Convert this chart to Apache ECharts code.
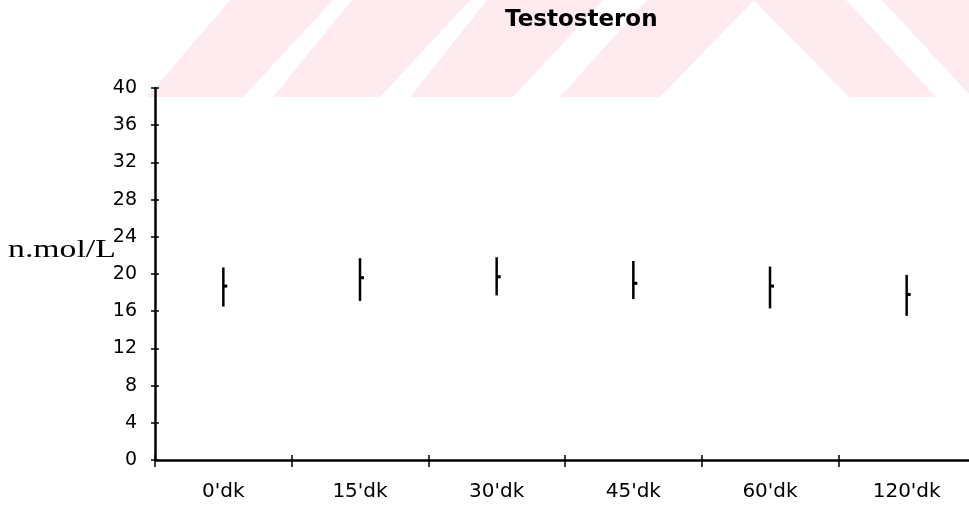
<!DOCTYPE html>
<html>
<head>
<meta charset="utf-8">
<style>
  html, body { margin: 0; padding: 0; background: #ffffff; }
  #chart { width: 969px; height: 508px; }
</style>
<script src="https://cdn.jsdelivr.net/npm/echarts@6/dist/echarts.min.js"></script>
</head>
<body>
<div id="chart"></div>
<script>
// ---- data ----
const categories = ["0'dk", "15'dk", "30'dk", "45'dk", "60'dk", "120'dk"];
const means      = [18.7, 19.6, 19.7, 19.0, 18.7, 17.8];
const upper      = [20.7, 21.7, 21.8, 21.4, 20.8, 19.9];
const lower      = [16.5, 17.1, 17.7, 17.3, 16.3, 15.5];
const yTicks     = [0, 4, 8, 12, 16, 20, 24, 28, 32, 36, 40];
const titleText  = 'Testosteron';
const yName      = 'n.mol/L';

const chart = echarts.init(document.getElementById('chart'), null, { renderer: 'canvas' });

const rows = categories.map((c, i) => [i, means[i], upper[i], lower[i]]);

const pink = '#fdebef';
const bands = [
  [[230,0],[333,0],[243,97],[147,97]],
  [[352,0],[470,0],[380,97],[273,97]],
  [[487,0],[603,0],[513,97],[410,97]],
  [[647,0],[754,0],[660,97],[560,97]],
  [[754,0],[846,0],[936,97],[849,97]],
  [[882,0],[969,0],[969,94]]
];

const G = { left: 155, right: -6, top: 88, bottom: 48 };
const gridW = 969 - G.left - G.right;
const gridH = 508 - G.top - G.bottom;

const labelFont = { color: '#000', fontFamily: 'DejaVu Sans', fontSize: 19 };

chart.setOption({
  animation: false,
  backgroundColor: '#ffffff',
  title: {
    text: titleText,
    left: 500,
    top: 4,
    textStyle: { color: '#000', fontFamily: 'DejaVu Sans', fontWeight: 'bold', fontSize: 23 }
  },
  graphic: bands.map(p => ({
    type: 'polygon', silent: true, z: -10,
    shape: { points: p },
    style: { fill: pink }
  })).concat([{
    type: 'text', silent: true, z: 10,
    x: 8, y: 250, scaleX: 1.35,
    style: {
      text: yName, x: 0, y: 0,
      fill: '#000', fontFamily: 'Liberation Serif', fontSize: 25,
      verticalAlign: 'middle', align: 'left'
    }
  }]),
  grid: Object.assign({ outerBoundsMode: 'none' }, G),
  xAxis: [{
    type: 'category',
    data: categories,
    position: 'bottom',
    boundaryGap: true,
    axisLine: { show: true, lineStyle: { color: '#000', width: 2.5 } },
    axisTick: { show: true, interval: 0, alignWithLabel: false, length: 7, lineStyle: { color: '#000', width: 1.5 } },
    axisLabel: Object.assign({ margin: 22, interval: 0, fontSize: 20 }, { color: '#000', fontFamily: 'DejaVu Sans' }),
    splitLine: { show: false }
  }, {
    type: 'category',
    data: categories,
    position: 'top',
    offset: -gridH,
    boundaryGap: true,
    axisLine: { show: false },
    axisTick: { show: true, interval: 0, alignWithLabel: false, length: 5, lineStyle: { color: '#000', width: 1.5 } },
    axisLabel: { show: false },
    splitLine: { show: false }
  }],
  yAxis: [{
    type: 'value',
    position: 'left',
    min: yTicks[0],
    max: yTicks[yTicks.length - 1],
    interval: yTicks[1] - yTicks[0],
    axisLine: { show: true, lineStyle: { color: '#000', width: 2.5 } },
    axisTick: { show: true, length: 4, lineStyle: { color: '#000', width: 1.5 } },
    axisLabel: Object.assign({ margin: 18, padding: [0, 0, 6, 0] }, labelFont),
    splitLine: { show: false }
  }, {
    type: 'value',
    position: 'right',
    offset: -gridW,
    min: yTicks[0],
    max: yTicks[yTicks.length - 1],
    interval: yTicks[1] - yTicks[0],
    axisLine: { show: false },
    axisTick: { show: true, length: 4, lineStyle: { color: '#000', width: 1.5 } },
    axisLabel: { show: false },
    splitLine: { show: false }
  }],
  series: [{
    type: 'custom',
    xAxisIndex: 0,
    yAxisIndex: 0,
    data: rows,
    encode: { x: 0, y: [1, 2, 3] },
    renderItem: function (params, api) {
      const c = api.value(0);
      const m = api.coord([c, api.value(1)]);
      const hi = api.coord([c, api.value(2)]);
      const lo = api.coord([c, api.value(3)]);
      return {
        type: 'group',
        children: [
          { type: 'line', shape: { x1: hi[0], y1: hi[1], x2: lo[0], y2: lo[1] },
            style: { stroke: '#000', lineWidth: 2.5 } },
          { type: 'line', shape: { x1: m[0], y1: m[1], x2: m[0] + 4, y2: m[1] },
            style: { stroke: '#000', lineWidth: 3 } }
        ]
      };
    }
  }]
});
</script>
</body>
</html>
